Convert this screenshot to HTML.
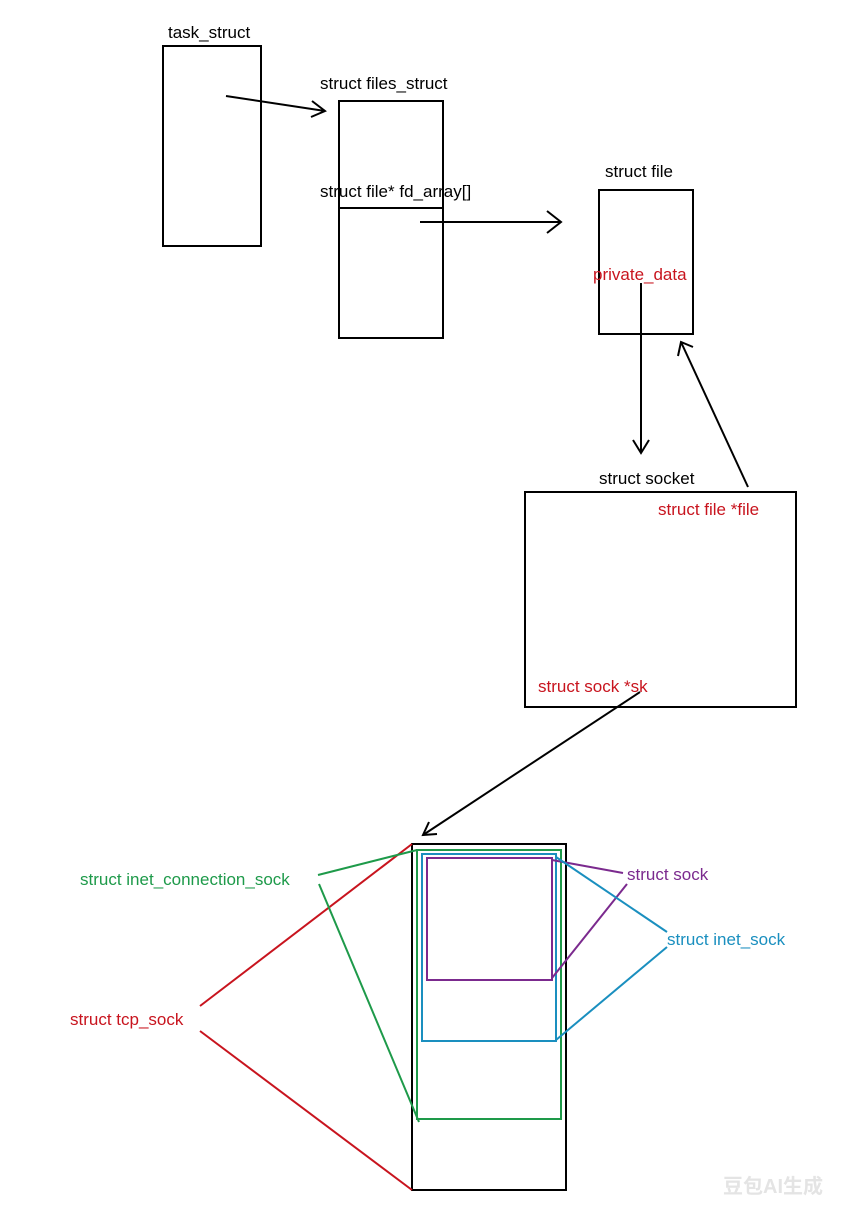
<!DOCTYPE html>
<html><head><meta charset="utf-8"><style>
html,body{margin:0;padding:0;background:#fff;}
svg{display:block;}
text{font-family:"Liberation Sans","Noto Sans CJK SC",sans-serif;font-size:17px;}
</style></head><body>
<svg width="865" height="1221" viewBox="0 0 865 1221" xmlns="http://www.w3.org/2000/svg">
<rect width="865" height="1221" fill="#fff"/>
<g fill="none" stroke="#000" stroke-width="2">
<rect x="163" y="46" width="98" height="200"/>
<rect x="339" y="101" width="104" height="237"/>
<line x1="339" y1="208" x2="443" y2="208"/>
<rect x="599" y="190" width="94" height="144"/>
<rect x="525" y="492" width="271" height="215"/>
<rect x="412" y="844" width="154" height="346"/>
<line x1="226" y1="96" x2="325" y2="111"/>
<polyline points="312,101 325,111 311,117"/>
<line x1="420" y1="222" x2="561" y2="222"/>
<polyline points="547,211 561,222 547,233"/>
<line x1="641" y1="283" x2="641" y2="453"/>
<polyline points="633,440 641,453 649,440"/>
<line x1="748" y1="487" x2="681" y2="342"/>
<polyline points="678,356 681,342 693,347"/>
<line x1="640" y1="692" x2="423" y2="835"/>
<polyline points="429,822 423,835 437,834"/>
</g>
<rect x="417" y="850" width="144" height="269" fill="none" stroke="#1e9a4a" stroke-width="2"/>
<rect x="422" y="854" width="134" height="187" fill="none" stroke="#1a8fbf" stroke-width="2"/>
<rect x="427" y="858" width="125" height="122" fill="none" stroke="#7b2a8e" stroke-width="2"/>
<g fill="none" stroke-width="2">
<line x1="200" y1="1006" x2="412" y2="844" stroke="#c8141e"/>
<line x1="200" y1="1031" x2="412" y2="1190" stroke="#c8141e"/>
<line x1="318" y1="875" x2="417" y2="850" stroke="#1e9a4a"/>
<line x1="319" y1="884" x2="419" y2="1122" stroke="#1e9a4a"/>
<line x1="552" y1="860" x2="623" y2="873" stroke="#7b2a8e"/>
<line x1="552" y1="978" x2="627" y2="884" stroke="#7b2a8e"/>
<line x1="556" y1="857" x2="667" y2="932" stroke="#1a8fbf"/>
<line x1="556" y1="1040" x2="667" y2="947" stroke="#1a8fbf"/>
</g>
<g fill="#000">
<text x="168" y="38">task_struct</text>
<text x="320" y="89">struct files_struct</text>
<text x="320" y="197">struct file* fd_array[]</text>
<text x="605" y="177">struct file</text>
<text x="599" y="484">struct socket</text>
</g>
<g fill="#c8141e">
<text x="593" y="280">private_data</text>
<text x="658" y="515">struct file *file</text>
<text x="538" y="692">struct sock *sk</text>
<text x="70" y="1025">struct tcp_sock</text>
</g>
<text x="80" y="885" fill="#1e9a4a">struct inet_connection_sock</text>
<text x="627" y="880" fill="#7b2a8e">struct sock</text>
<text x="667" y="945" fill="#1a8fbf">struct inet_sock</text>
<text x="723" y="1193" fill="#e4e4e4" style="font-size:20px;font-weight:bold">豆包AI生成</text>
</svg>
</body></html>
